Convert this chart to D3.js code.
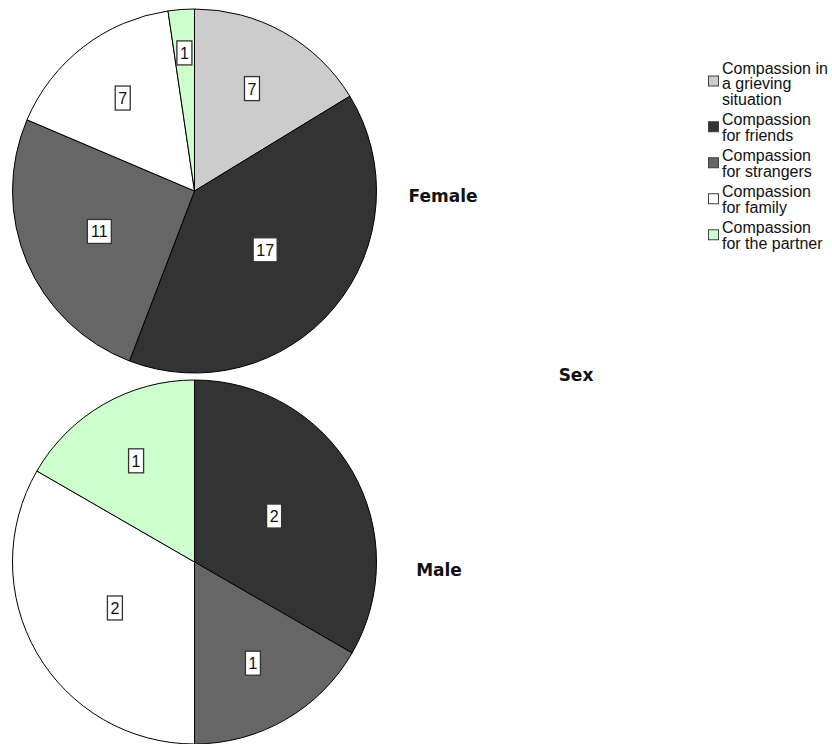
<!DOCTYPE html>
<html>
<head>
<meta charset="utf-8">
<script src="https://d3js.org/d3.v7.min.js"></script>
<style>
  body { margin: 0; background: #ffffff; }
  svg { display: block; }
</style>
</head>
<body>
<div id="chart"></div>
<script>
// categories, in legend / slice order
var categories = [
    ["Compassion in", "a grieving", "situation"],
    ["Compassion", "for friends"],
    ["Compassion", "for strangers"],
    ["Compassion", "for family"],
    ["Compassion", "for the partner"]
];
var colors = ["#cccccc", "#333333", "#666666", "#ffffff", "#ccffcc"];

// panels (rows of the "Sex" variable)
var groups = ["Female", "Male"];
var femaleCounts = [7, 17, 11, 7, 1];
var maleCounts   = [0, 2, 1, 2, 1];
var counts = [femaleCounts, maleCounts];

var width  = 832;
var height = 744;

var svg = d3.select("#chart")
    .append("svg")
    .attr("width", width)
    .attr("height", height);

svg.append("rect")
    .attr("width", width)
    .attr("height", height)
    .attr("fill", "#ffffff");

////////////
/// Pies ///
////////////

var radius  = 182;
var centers = [{x: 194.5, y: 191}, {x: 194.5, y: 562}];
var titlePos = [{x: 443, y: 196}, {x: 439, y: 570}];

var pie = d3.pie()
    .sort(null)
    .value(function (d) { return d; });

var arc = d3.arc()
    .innerRadius(0)
    .outerRadius(radius);

// label distance shrinks with slice size, like spss does it (roughly)
function labelDist(a) {
    var deg = (a.endAngle - a.startAngle) * 180 / Math.PI;
    return radius * Math.max(0.505, 0.78 - 0.0023 * deg);
}

groups.forEach(function (g, gi) {
    var c = centers[gi];
    var slices = pie(counts[gi]);

    var pg = svg.append("g")
        .attr("transform", "translate(" + c.x + "," + c.y + ")");

    pg.selectAll("path")
        .data(slices)
        .enter()
        .append("path")
        .attr("d", arc)
        .attr("fill", function (d, i) { return colors[i]; })
        .attr("stroke", "#000000")
        .attr("stroke-width", 1)
        .attr("stroke-linejoin", "round");

    var labels = pg.selectAll("g.lab")
        .data(slices.filter(function (d) { return d.value > 0; }))
        .enter()
        .append("g")
        .attr("class", "lab")
        .attr("transform", function (d) {
            var m = (d.startAngle + d.endAngle) / 2;
            var r = labelDist(d);
            return "translate(" + (r * Math.sin(m)) + "," + (-r * Math.cos(m)) + ")";
        });

    labels.append("rect")
        .attr("x", function (d) { return -(String(d.value).length * 4.5 + 3); })
        .attr("y", -12)
        .attr("width", function (d) { return String(d.value).length * 9 + 6; })
        .attr("height", 24)
        .attr("fill", "#ffffff")
        .attr("stroke", "#333333")
        .attr("stroke-width", 1.3);

    labels.append("text")
        .attr("text-anchor", "middle")
        .attr("y", 6)
        .attr("style", "font-family: 'Liberation Sans', Arial, sans-serif; font-size: 16px;")
        .attr("fill", "#111111")
        .text(function (d) { return d.value; });

    svg.append("text")
        .attr("x", titlePos[gi].x)
        .attr("y", titlePos[gi].y + 6)
        .attr("text-anchor", "middle")
        .attr("style", "font-family: 'DejaVu Sans', sans-serif; font-size: 17px; font-weight: bold;")
        .attr("fill", "#111111")
        .text(g);
});

svg.append("text")
    .attr("x", 576)
    .attr("y", 381)
    .attr("text-anchor", "middle")
    .attr("style", "font-family: 'DejaVu Sans', sans-serif; font-size: 17px; font-weight: bold;")
    .attr("fill", "#111111")
    .text("Sex");

//////////////
/// Legend ///
//////////////

var lineH = 15.5;
var gap   = 20.5;
var ly    = 68;

categories.forEach(function (lines, i) {
    var top = ly;
    var mid = top + (lines.length - 1) * lineH / 2;

    svg.append("rect")
        .attr("x", 708.5)
        .attr("y", mid - 5.5 - (lines.length > 2 ? 2 : 0))
        .attr("width", 10)
        .attr("height", 10)
        .attr("fill", colors[i])
        .attr("stroke", "#404040")
        .attr("stroke-width", 1);

    var t = svg.append("text")
        .attr("style", "font-family: 'Liberation Sans', Arial, sans-serif; font-size: 16px;")
        .attr("fill", "#111111");

    lines.forEach(function (s, k) {
        t.append("tspan")
            .attr("x", 722)
            .attr("y", top + k * lineH + 5.5)
            .text(s);
    });

    ly = top + (lines.length - 1) * lineH + gap;
});
</script>
</body>
</html>
